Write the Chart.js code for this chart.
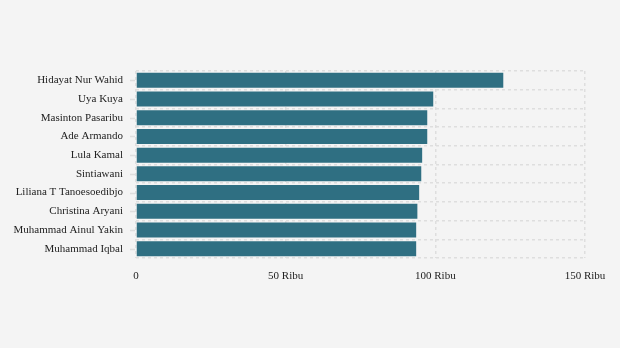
<!DOCTYPE html>
<html>
<head>
<meta charset="utf-8">
<script src="https://cdn.jsdelivr.net/npm/chart.js@4"></script>
<style>
  html, body { margin: 0; padding: 0; background: #f4f4f4; }
  #wrap { width: 620px; height: 348px; }
</style>
</head>
<body>
<div id="wrap"><canvas id="rankChart" width="620" height="348"></canvas></div>
<script>
// Nama dan jumlah (dalam satuan, ditampilkan sebagai "Ribu")
var names = [
    "Hidayat Nur Wahid", "Uya Kuya", "Masinton Pasaribu", "Ade Armando", "Lula Kamal",
    "Sintiawani", "Liliana T Tanoesoedibjo", "Christina Aryani", "Muhammad Ainul Yakin", "Muhammad Iqbal"
];
var totals = [122700, 99300, 97300, 97300, 95600, 95300, 94600, 94000, 93600, 93600];
var xTicks = [0, 50000, 100000, 150000];

var barColor = "#2f6f82";
var gridColor = "#dedede";

// tanda tick kecil di sumbu kategori, di tengah tiap baris
var tickMarks = {
    id: "tickMarks",
    afterDraw: function(chart) {
        var y = chart.scales.y;
        var c = chart.ctx;
        c.save();
        c.strokeStyle = gridColor;
        c.lineWidth = 1.5;
        for (var i = 0; i < names.length; i++) {
            var py = Math.round(y.getPixelForValue(i)) + 0.5;
            c.beginPath();
            c.moveTo(y.right - 6, py);
            c.lineTo(y.right - 1, py);
            c.stroke();
        }
        c.restore();
    }
};

new Chart(document.getElementById("rankChart").getContext("2d"), {
    type: "bar",
    data: {
        labels: names,
        datasets: [{
            data: totals,
            backgroundColor: barColor,
            borderWidth: 0,
            barPercentage: 0.8,
            categoryPercentage: 1.0
        }]
    },
    options: {
        indexAxis: "y",
        responsive: false,
        animation: false,
        layout: { padding: { top: 71, right: 35, left: 0, bottom: 0 } },
        plugins: {
            legend: { display: false },
            tooltip: { enabled: false }
        },
        scales: {
            x: {
                min: 0,
                max: 150000,
                afterBuildTicks: function(scale) {
                    scale.ticks = xTicks.map(function(v) { return { value: v }; });
                },
                afterFit: function(scale) { scale.height = 90; },
                grid: { color: gridColor, lineWidth: 1.5, drawTicks: false },
                border: { display: false, dash: [3, 3] },
                ticks: {
                    padding: 12,
                    color: "#222",
                    font: { family: "Liberation Serif", size: 11 },
                    maxRotation: 0,
                    callback: function(v) { return v === 0 ? "0" : (v / 1000) + " Ribu"; }
                }
            },
            y: {
                afterFit: function(scale) { scale.width = 136; },
                grid: { offset: true, color: gridColor, lineWidth: 1.5, drawTicks: false },
                border: { display: false, dash: [3, 3] },
                ticks: {
                    padding: 13,
                    color: "#222",
                    font: { family: "Liberation Serif", size: 11 }
                }
            }
        }
    },
    plugins: [tickMarks]
});
</script>
</body>
</html>
